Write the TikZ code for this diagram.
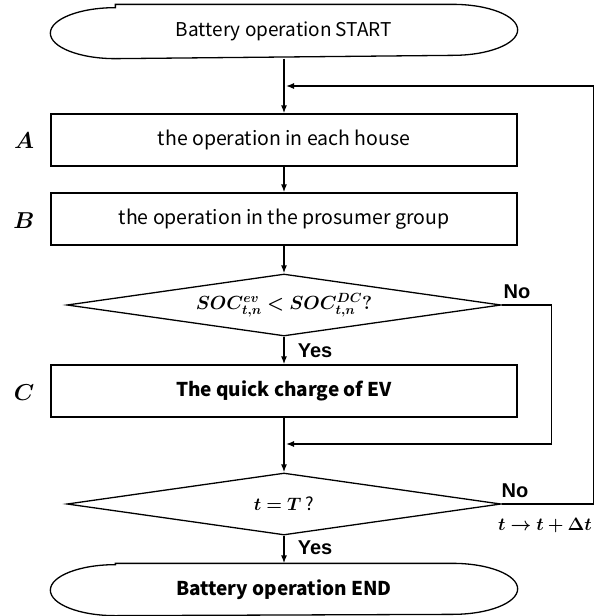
\documentclass[tikz,border=0pt]{standalone}
\usepackage{fix-cm}
\usepackage{fontspec}
\setmainfont{Noto Sans CJK JP}
\newfontfamily\ynfont{Liberation Sans}
\usepackage{bm}
\usetikzlibrary{arrows.meta,shapes.geometric}
\begin{document}
\begin{tikzpicture}[x=1pt,y=-1pt,line width=1.3pt,
  box/.style={draw,rectangle,minimum width=466pt,minimum height=52pt,inner sep=0pt,font=\fontsize{19.5}{22}\selectfont},
  term/.style={rectangle,minimum width=466pt,minimum height=53pt,inner sep=0pt,font=\fontsize{19}{22}\selectfont},
  dia/.style={draw,diamond,aspect=7,minimum width=434pt,minimum height=62pt,inner sep=0pt,font=\fontsize{19}{21}\selectfont},
  arr/.style={-{Latex[length=8pt,width=6pt]}},
  yn/.style={font=\ynfont\bfseries\fontsize{20}{22}\selectfont,inner sep=0pt},
  side/.style={font=\fontsize{23}{25}\selectfont,inner sep=0pt}]
\useasboundingbox (0,0) rectangle (611,616);
% nodes
\node[term] (start) at (284,31.5) {Battery operation START};
\node[box] (A) at (284,140) {the operation in each house};
\node[box] (B) at (284,219) {the operation in the prosumer group};
\node[dia] (d1) at (284,305) {$\bm{SOC^{ev}_{t,n} < SOC^{DC}_{t,n}?}$};
\node[box,font=\bfseries\fontsize{19}{22}\selectfont] (C) at (284,391) {The quick charge of EV};
\node[dia,font=\fontsize{18}{21}\selectfont] (d2) at (284,504) {$\bm{t = T}$ \textit{?}};
\node[term,minimum height=51pt,font=\bfseries\fontsize{19}{22}\selectfont] (end) at (284,589.5) {Battery operation END};
% terminal outlines
\foreach \n in {start,end}{
  \draw ([xshift=65pt]\n.north west) -- ([xshift=-65pt]\n.north east)
    arc[start angle=90,end angle=-90,x radius=65pt,y radius=25.5pt]
    -- ([xshift=65pt]\n.south west)
    arc[start angle=270,end angle=90,x radius=65pt,y radius=25.5pt] -- cycle;
}
% side labels
\node[side] (la) at (24,141) {$\bm{A}$};
\node[side] (lb) at (24,221) {$\bm{B}$};
\node[side] (lc) at (24,393) {$\bm{C}$};
% yes/no labels
\node[yn] (no1) at (517,292) {No};
\node[yn] (yes1) at (315,351) {Yes};
\node[yn] (no2) at (515,491) {No};
\node[yn] (yes2) at (315,548) {Yes};
\node[font=\fontsize{18}{20}\selectfont,inner sep=0pt] (dt) at (545,525) {$\bm{t \rightarrow t + \Delta t}$};
% junctions
\coordinate (j1) at (286,444);
\coordinate (j2) at (286,86);
% connectors
\draw[arr] (start.south) -- (A.north);
\draw[arr] (A.south) -- (B.north);
\draw[arr] (B.south) -- (d1.north);
\draw[arr] (d1.south) -- (C.north);
\draw[arr] (C.south) -- (d2.north);
\draw[arr] (d2.south) -- (end.north);
\draw[arr] (d1.east) -- ++(50,0) |- (j1);
\draw[arr] (d2.east) -- ++(92,0) |- (j2);
\end{tikzpicture}
\end{document}
